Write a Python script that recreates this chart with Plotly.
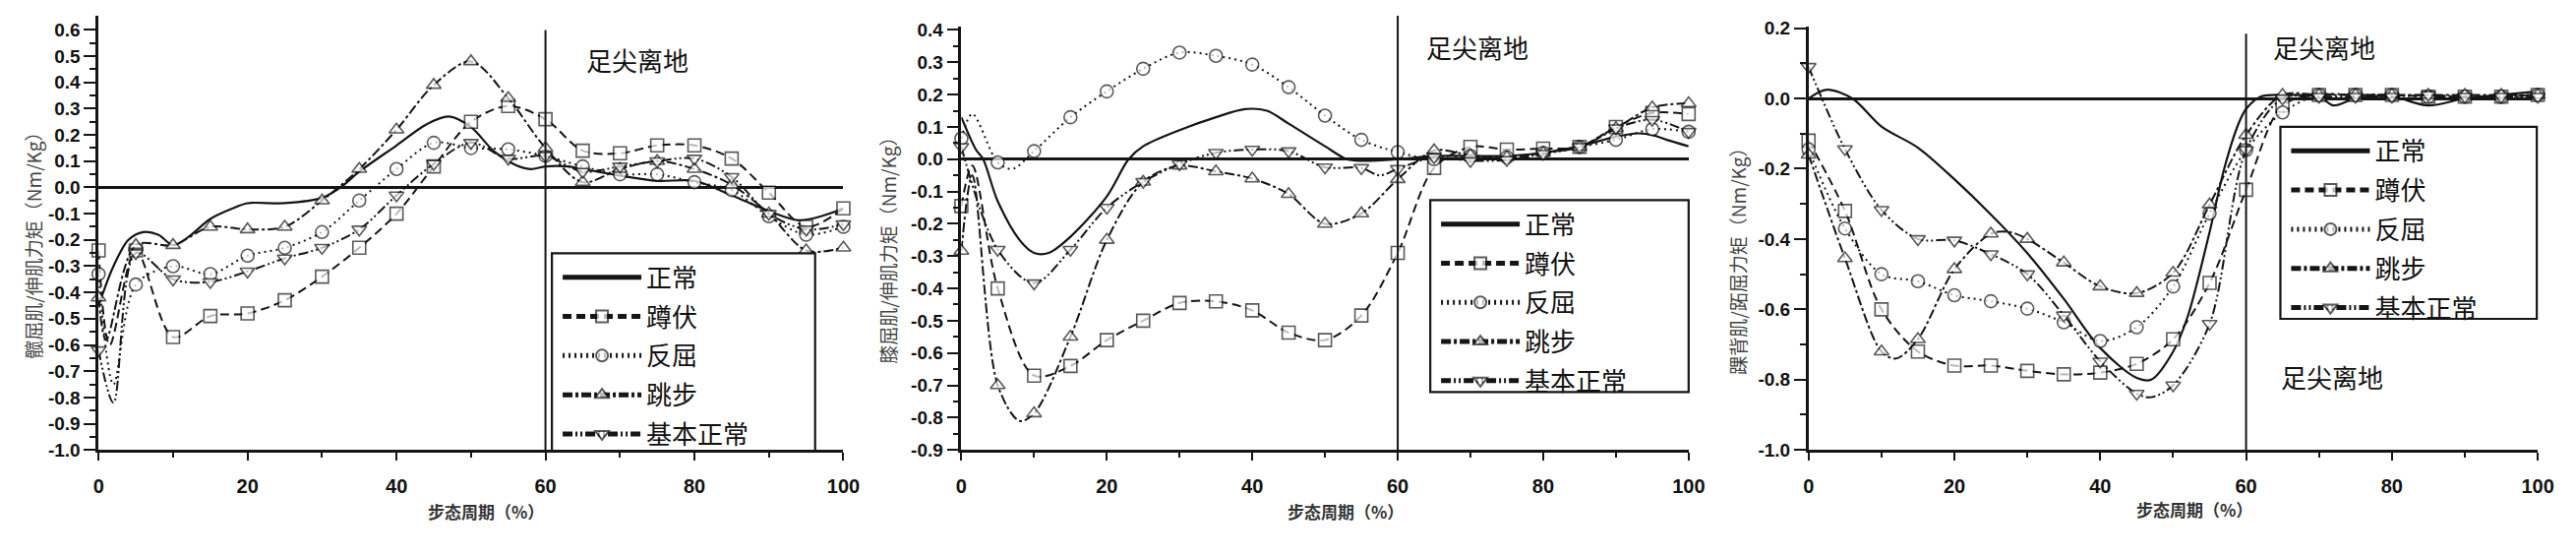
import plotly.graph_objects as go

# The page keeps the browser's default 8px body margin, so the figure is made
# 16px smaller than the 2619x566 window and all screen positions are offset.
SCREEN_W, SCREEN_H = 2619, 566
OFF = 8
FW, FH = SCREEN_W - 2 * OFF, SCREEN_H - 2 * OFF

SERIES = ["正常", "蹲伏", "反屈", "跳步", "基本正常"]
TOE_OFF = 60
X_TITLE = "步态周期（%）"
Y_TITLES = ["髋屈肌/伸肌力矩（Nm/Kg）", "膝屈肌/伸肌力矩（Nm/Kg）", "踝背肌/跖屈力矩（Nm/Kg）"]
TOE_LABEL = "足尖离地"
X_TICKS = [0, 20, 40, 60, 80, 100]
X_MINOR = [10, 30, 50, 70, 90]

# ---------------- Panel 1: hip ----------------
HIP_NORMAL_X = [0, 2, 4, 6, 8, 10, 12, 15, 18, 20, 25, 30, 32.5, 35, 40, 44, 47, 50, 53, 56, 58, 60, 63, 65, 70, 75, 80, 85, 90, 94, 97, 100]
HIP_NORMAL_Y = [-0.45, -0.30, -0.20, -0.17, -0.18, -0.22, -0.19, -0.12, -0.08, -0.06, -0.06, -0.04, 0.0, 0.06, 0.16, 0.24, 0.27, 0.23, 0.14, 0.085, 0.07, 0.08, 0.08, 0.07, 0.045, 0.025, 0.025, -0.03, -0.09, -0.125, -0.11, -0.08]
HIP_SQUAT_X = [0, 1.5, 5, 10, 15, 20, 25, 30, 35, 40, 45, 50, 55, 60, 65, 70, 75, 80, 85, 90, 95, 100]
HIP_SQUAT_Y = [-0.24, -0.60, -0.24, -0.57, -0.49, -0.48, -0.43, -0.34, -0.23, -0.10, 0.08, 0.25, 0.31, 0.26, 0.14, 0.13, 0.16, 0.16, 0.11, -0.02, -0.15, -0.08]
HIP_RECURV_X = [0, 2, 5, 10, 15, 20, 25, 30, 35, 40, 45, 50, 55, 60, 65, 70, 75, 80, 85, 90, 95, 100]
HIP_RECURV_Y = [-0.33, -0.75, -0.37, -0.30, -0.33, -0.26, -0.23, -0.17, -0.05, 0.07, 0.17, 0.15, 0.145, 0.12, 0.08, 0.05, 0.05, 0.02, -0.01, -0.11, -0.18, -0.15]
HIP_JUMP_X = [0, 1, 5, 10, 15, 20, 25, 30, 35, 40, 45, 50, 55, 60, 65, 70, 75, 80, 85, 90, 95, 100]
HIP_JUMP_Y = [-0.42, -0.58, -0.22, -0.22, -0.15, -0.16, -0.15, -0.05, 0.07, 0.22, 0.39, 0.48, 0.34, 0.15, 0.02, 0.07, 0.10, 0.07, 0.01, -0.10, -0.24, -0.23]
HIP_BASIC_X = [0, 2, 5, 10, 15, 20, 25, 30, 35, 40, 45, 50, 55, 60, 65, 70, 75, 80, 85, 90, 95, 100]
HIP_BASIC_Y = [-0.62, -0.82, -0.25, -0.35, -0.36, -0.32, -0.27, -0.23, -0.16, -0.03, 0.09, 0.17, 0.11, 0.12, 0.06, 0.08, 0.10, 0.11, 0.04, -0.10, -0.16, -0.14]
HIP_YTICKS = [-1.0, -0.9, -0.8, -0.7, -0.6, -0.5, -0.4, -0.3, -0.2, -0.1, 0.0, 0.1, 0.2, 0.3, 0.4, 0.5, 0.6]

# ---------------- Panel 2: knee ----------------
KNEE_NORMAL_X = [0, 2, 3, 5, 8, 10, 12, 15, 20, 23, 25, 30, 35, 39, 42, 45, 50, 53, 55, 60, 65, 70, 75, 80, 85, 90, 93, 95, 97, 100]
KNEE_NORMAL_Y = [0.13, 0.03, 0.0, -0.13, -0.25, -0.29, -0.29, -0.24, -0.115, 0.0, 0.04, 0.09, 0.13, 0.155, 0.15, 0.11, 0.04, 0.0, -0.005, 0.0, 0.01, 0.01, 0.01, 0.02, 0.04, 0.07, 0.08, 0.075, 0.06, 0.04]
KNEE_SQUAT_X = [0, 1.5, 5, 10, 15, 20, 25, 30, 35, 40, 45, 50, 55, 60, 65, 70, 75, 80, 85, 90, 95, 100]
KNEE_SQUAT_Y = [-0.145, -0.02, -0.40, -0.67, -0.64, -0.56, -0.50, -0.445, -0.44, -0.468, -0.537, -0.56, -0.484, -0.29, -0.027, 0.038, 0.03, 0.033, 0.038, 0.10, 0.143, 0.14]
KNEE_RECURV_X = [0, 1.5, 5, 7, 10, 15, 20, 25, 30, 35, 40, 45, 50, 55, 60, 65, 70, 75, 80, 85, 90, 95, 100]
KNEE_RECURV_Y = [0.064, 0.14, -0.01, -0.03, 0.025, 0.13, 0.21, 0.28, 0.33, 0.32, 0.293, 0.223, 0.135, 0.06, 0.022, 0.0, 0.01, 0.006, 0.02, 0.038, 0.06, 0.093, 0.085]
KNEE_JUMP_X = [0, 1.5, 5, 8, 10, 15, 20, 25, 30, 35, 40, 45, 50, 55, 60, 65, 70, 75, 80, 85, 90, 95, 100]
KNEE_JUMP_Y = [-0.284, -0.05, -0.70, -0.81, -0.787, -0.55, -0.25, -0.07, -0.02, -0.038, -0.06, -0.108, -0.20, -0.168, -0.062, 0.027, 0.012, 0.006, 0.02, 0.038, 0.096, 0.16, 0.173]
KNEE_BASIC_X = [0, 5, 10, 15, 20, 25, 30, 35, 40, 45, 50, 55, 57.5, 60, 65, 70, 75, 80, 85, 90, 95, 100]
KNEE_BASIC_Y = [0.038, -0.28, -0.384, -0.28, -0.15, -0.07, -0.015, 0.02, 0.03, 0.025, -0.025, -0.027, -0.05, -0.03, 0.006, -0.005, -0.002, 0.017, 0.038, 0.096, 0.122, 0.085]
KNEE_YTICKS = [-0.9, -0.8, -0.7, -0.6, -0.5, -0.4, -0.3, -0.2, -0.1, 0.0, 0.1, 0.2, 0.3, 0.4]

# ---------------- Panel 3: ankle ----------------
ANK_NORMAL_X = [0, 2.5, 6, 10, 15, 20, 25, 30, 35, 40, 45, 47, 50, 52, 55, 57, 59, 60, 62, 65, 70, 72, 75, 80, 85, 90, 95, 100]
ANK_NORMAL_Y = [0.0, 0.025, 0.0, -0.08, -0.14, -0.23, -0.33, -0.44, -0.57, -0.71, -0.795, -0.80, -0.72, -0.62, -0.38, -0.20, -0.07, -0.03, 0.005, 0.01, 0.005, -0.02, 0.0, 0.005, -0.02, 0.0, 0.01, 0.02]
ANK_SQUAT_X = [0, 5, 10, 15, 20, 25, 30, 35, 40, 45, 50, 55, 60, 65, 70, 75, 80, 85, 90, 95, 100]
ANK_SQUAT_Y = [-0.12, -0.32, -0.60, -0.72, -0.76, -0.76, -0.775, -0.785, -0.78, -0.755, -0.685, -0.525, -0.26, -0.02, 0.01, 0.01, 0.01, 0.005, 0.005, 0.005, 0.01]
ANK_RECURV_X = [0, 5, 10, 15, 20, 25, 30, 35, 40, 45, 50, 55, 60, 65, 70, 75, 80, 85, 90, 95, 100]
ANK_RECURV_Y = [-0.145, -0.37, -0.50, -0.52, -0.56, -0.577, -0.598, -0.637, -0.69, -0.651, -0.535, -0.327, -0.147, -0.04, 0.01, 0.01, 0.01, 0.005, 0.005, 0.005, 0.01]
ANK_JUMP_X = [0, 5, 10, 12, 15, 20, 25, 27.5, 30, 35, 40, 45, 50, 55, 60, 65, 70, 75, 80, 85, 90, 95, 100]
ANK_JUMP_Y = [-0.16, -0.455, -0.72, -0.74, -0.685, -0.486, -0.385, -0.38, -0.40, -0.467, -0.535, -0.554, -0.496, -0.302, -0.104, 0.01, 0.01, 0.01, 0.01, 0.01, 0.01, 0.01, 0.01]
ANK_BASIC_X = [0, 5, 10, 15, 20, 25, 30, 35, 40, 45, 47, 50, 55, 60, 65, 70, 75, 80, 85, 90, 95, 100]
ANK_BASIC_Y = [0.09, -0.144, -0.317, -0.40, -0.404, -0.443, -0.50, -0.617, -0.748, -0.84, -0.85, -0.816, -0.641, -0.147, 0.0, 0.005, 0.005, 0.005, 0.01, 0.005, 0.005, 0.005]
ANK_YTICKS = [-1.0, -0.8, -0.6, -0.4, -0.2, 0.0, 0.2]

# ---------------- styling ----------------
INK = "#151515"
STYLES = [
    dict(dash="solid", symbol=None),
    dict(dash="9px,5px", symbol="square"),
    dict(dash="2px,4px", symbol="circle"),
    dict(dash="10px,3px,3px,3px", symbol="triangle-up"),
    dict(dash="10px,3px,2px,3px,2px,3px", symbol="triangle-down"),
]
MS = 13


def px_x(s):
    return (s - OFF) / FW


def px_y(s):
    return min(1.0, 1 - (s - OFF) / FH)


panels = [
    dict(suffix="", data=[(HIP_NORMAL_X, HIP_NORMAL_Y), (HIP_SQUAT_X, HIP_SQUAT_Y), (HIP_RECURV_X, HIP_RECURV_Y),
                          (HIP_JUMP_X, HIP_JUMP_Y), (HIP_BASIC_X, HIP_BASIC_Y)],
         xdom=(95, 859), ytop=8, yrange=[-1.0, 0.654], yticks=HIP_YTICKS, ystep=0.1, vtop_px=23,
         legend="legend", box=(560, 258, 830, 466), ytitle_xy=(28, 245), xtitle_xy=(492, 529),
         toe=[(72.3, 0.488)]),
    dict(suffix="2", data=[(KNEE_NORMAL_X, KNEE_NORMAL_Y), (KNEE_SQUAT_X, KNEE_SQUAT_Y), (KNEE_RECURV_X, KNEE_RECURV_Y),
                           (KNEE_JUMP_X, KNEE_JUMP_Y), (KNEE_BASIC_X, KNEE_BASIC_Y)],
         xdom=(980, 1726), ytop=19.6, yrange=[-0.9, 0.41], yticks=KNEE_YTICKS, ystep=0.1, vtop_px=8,
         legend="legend2", box=(1461, 202, 1726, 404), ytitle_xy=(905, 250), xtitle_xy=(1374, 529),
         toe=[(71.0, 0.347)]),
    dict(suffix="3", data=[(ANK_NORMAL_X, ANK_NORMAL_Y), (ANK_SQUAT_X, ANK_SQUAT_Y), (ANK_RECURV_X, ANK_RECURV_Y),
                           (ANK_JUMP_X, ANK_JUMP_Y), (ANK_BASIC_X, ANK_BASIC_Y)],
         xdom=(1849, 2597), ytop=19.2, yrange=[-1.0, 0.205], yticks=ANK_YTICKS, ystep=0.2, vtop_px=27,
         legend="legend3", box=(2333, 125, 2596, 327), ytitle_xy=(1776, 261), xtitle_xy=(2245, 527),
         toe=[(70.7, 0.146), (71.8, -0.792)]),
]

fig = go.Figure()
annotations = []
shapes = []
layout = {}
BOTTOM = 465

for pi, p in enumerate(panels):
    xa = "x" + p["suffix"]
    ya = "y" + p["suffix"]
    for si, name in enumerate(SERIES):
        xs, ys = p["data"][si]
        st = STYLES[si]
        kw = {}
        if st["symbol"] is None:
            mode = "lines"
        else:
            mode = "lines+markers"
            kw["marker"] = dict(
                symbol=st["symbol"],
                size=[MS if x % 5 == 0 else 0 for x in xs],
                color="white",
                line=dict(color=INK, width=[1.6 if x % 5 == 0 else 0 for x in xs]),
            )
        fig.add_trace(go.Scatter(
            x=xs, y=ys, name=name, mode=mode,
            line=dict(color=INK, width=2.0 if si else 2.2, dash=st["dash"], shape="spline", smoothing=0.9),
            xaxis=xa, yaxis=ya, legend=p["legend"], legendgroup=f"g{pi}_{si}",
            cliponaxis=False, **kw,
        ))

    yt = p["yticks"]
    minor_y = [round(v + p["ystep"] / 2, 3) for v in yt[:-1]]
    layout["xaxis" + p["suffix"]] = dict(
        domain=[px_x(p["xdom"][0]), px_x(p["xdom"][1])], range=[0, 100], anchor=ya,
        showline=True, linecolor=INK, linewidth=2.5, showgrid=False, zeroline=False,
        ticks="outside", tickvals=X_TICKS, ticktext=[str(v) for v in X_TICKS],
        ticklen=8, tickwidth=2, tickcolor=INK, ticklabelstandoff=9,
        minor=dict(tickvals=X_MINOR, ticks="outside", ticklen=5, tickwidth=2, tickcolor=INK),
        tickfont=dict(family="Liberation Sans", size=20, color="#111", weight="bold"),
    )
    layout["yaxis" + p["suffix"]] = dict(
        domain=[px_y(BOTTOM), px_y(p["ytop"])], range=p["yrange"], anchor=xa,
        showline=True, linecolor=INK, linewidth=2.5, showgrid=False,
        zeroline=True, zerolinecolor=INK, zerolinewidth=2.5,
        ticks="outside", tickvals=yt, ticktext=[f"{v:.1f}" for v in yt],
        ticklen=12, tickwidth=2, tickcolor=INK,
        minor=dict(tickvals=minor_y, ticks="outside", ticklen=6, tickwidth=2, tickcolor=INK),
        tickfont=dict(family="Liberation Sans", size=19, color="#111", weight="bold"),
    )
    bx0, by0, bx1, by1 = p["box"]
    # legend frame
    shapes.append(dict(type="rect", xref="paper", yref="paper", layer="above",
                       x0=px_x(bx0), x1=px_x(bx1), y0=px_y(by1), y1=px_y(by0),
                       line=dict(color=INK, width=2.2), fillcolor="white"))
    layout[p["legend"]] = dict(
        x=px_x(bx0 + 6), y=px_y(by0 + 1), xanchor="left", yanchor="top",
        bgcolor="rgba(0,0,0,0)", borderwidth=0,
        font=dict(family="Noto Sans CJK SC", size=26, color="#111"),
        itemwidth=80, itemsizing="constant", tracegroupgap=3,
    )
    # toe-off marker line at 60 % of the gait cycle
    shapes.append(dict(type="line", xref=xa, yref="paper", x0=TOE_OFF, x1=TOE_OFF,
                       y0=px_y(BOTTOM), y1=px_y(p["vtop_px"]), line=dict(color=INK, width=2)))
    for (tx, ty) in p["toe"]:
        annotations.append(dict(xref=xa, yref=ya, x=tx, y=ty, text=TOE_LABEL, showarrow=False,
                                xanchor="center", yanchor="middle",
                                font=dict(family="Noto Sans CJK SC", size=26, color="#111")))
    annotations.append(dict(xref="paper", yref="paper", x=px_x(p["xtitle_xy"][0]), y=px_y(p["xtitle_xy"][1]),
                            text=X_TITLE, showarrow=False, xanchor="center", yanchor="middle",
                            font=dict(family="Noto Sans CJK SC", size=17, color="#333", weight="bold")))
    annotations.append(dict(xref="paper", yref="paper", x=px_x(p["ytitle_xy"][0]), y=px_y(p["ytitle_xy"][1]),
                            text=Y_TITLES[pi], showarrow=False, textangle=-90,
                            xanchor="center", yanchor="middle",
                            font=dict(family="Noto Sans CJK SC", size=19, color="#444")))

fig.update_layout(
    width=FW, height=FH, margin=dict(l=0, r=0, t=0, b=0),
    paper_bgcolor="white", plot_bgcolor="white",
    showlegend=True, shapes=shapes, annotations=annotations, **layout,
)

fig.write_html("out.html")
